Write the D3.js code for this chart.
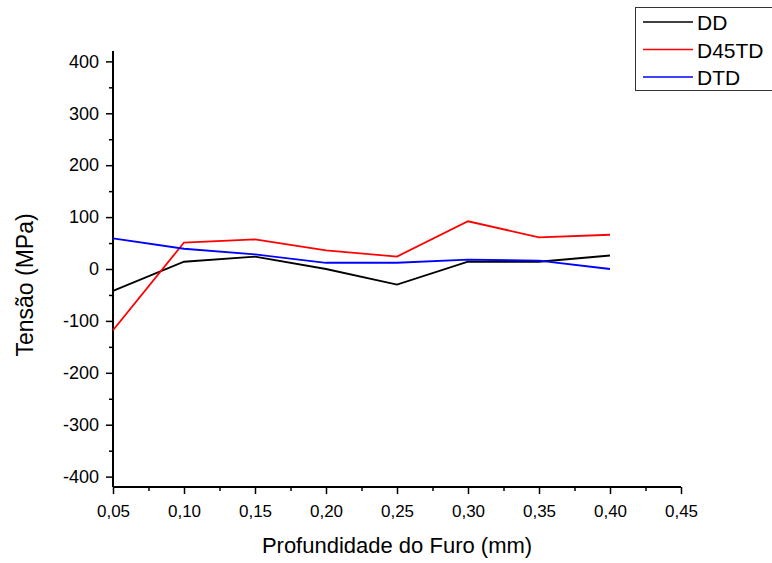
<!DOCTYPE html>
<html><head><meta charset="utf-8">
<script src="https://cdn.jsdelivr.net/npm/d3@7"></script>
<style>body{margin:0;background:#fff;font-family:"Liberation Sans",Arial,sans-serif;}</style>
</head><body>
<svg id="c" width="772" height="563"></svg>
<script>
const depths = [0.05,0.10,0.15,0.20,0.25,0.30,0.35,0.40];
const DD = [-42,14,24,0,-30,14,14,26];
const D45TD = [-118,51,57,36,24,92,61,66];
const DTD = [59,39,28,12,12,18,16,0];
const seriesNames = ["DD","D45TD","DTD"];
const seriesColors = ["#000000","#ff0000","#0000ff"];
const xTicks = [0.05,0.10,0.15,0.20,0.25,0.30,0.35,0.40,0.45];
const yTicks = [-400,-300,-200,-100,0,100,200,300,400];

const svg = d3.select("#c");
const FF = "Liberation Sans, Arial, sans-serif";
const x = d3.scaleLinear().domain([0.05,0.45]).range([113,681]);
const y = d3.scaleLinear().domain([-420,420]).range([487,51]);
const fmt = d => d.toFixed(2).replace(".",",");

const gx = svg.append("g").attr("transform","translate(0,487)");
gx.call(d3.axisBottom(x).tickValues(xTicks).tickFormat(fmt).tickSize(7).tickPadding(11));
gx.append("g").call(d3.axisBottom(x).tickValues(d3.range(0.075,0.45,0.05)).tickFormat("").tickSize(4));
const gy = svg.append("g").attr("transform","translate(113,0)");
gy.call(d3.axisLeft(y).tickValues(yTicks).tickFormat(d => String(d)).tickSize(7).tickPadding(7));
gy.append("g").call(d3.axisLeft(y).tickValues(d3.range(-350,400,100)).tickFormat("").tickSize(4));
svg.selectAll(".domain").attr("stroke","#000").attr("stroke-width",2);
svg.selectAll(".tick line").attr("stroke","#000").attr("stroke-width",1.5);
gx.selectAll(".tick text").attr("font-size",17).attr("fill","#000").attr("font-family",FF);
gy.selectAll(".tick text").attr("font-size",18).attr("fill","#000").attr("font-family",FF);
gx.selectAll(".domain").attr("d","M113,0H681");
gy.selectAll(".domain").attr("d","M0,51V487");

const all = [DD,D45TD,DTD];
const line = d3.line().x((d,i)=>x(depths[i])).y(d=>y(d));
all.forEach((s,k)=>{
  svg.append("path").datum(s).attr("d",line).attr("fill","none")
    .attr("stroke",seriesColors[k]).attr("stroke-width",1.8);
});

svg.append("text").attr("transform","translate(33,285) rotate(-90)")
  .attr("text-anchor","middle").attr("font-size",23).attr("font-family",FF).text("Tensão (MPa)");
svg.append("text").attr("x",397).attr("y",553)
  .attr("text-anchor","middle").attr("font-size",22).attr("font-family",FF).text("Profundidade do Furo (mm)");

const lg = svg.append("g");
lg.append("rect").attr("x",635.5).attr("y",7.5).attr("width",140).attr("height",83)
  .attr("fill","#fff").attr("stroke","#333").attr("stroke-width",1);
seriesNames.forEach((n,i)=>{
  const yy = 22 + i*27.5;
  lg.append("line").attr("x1",643).attr("x2",693).attr("y1",yy).attr("y2",yy)
    .attr("stroke",seriesColors[i]).attr("stroke-width",1.6);
  lg.append("text").attr("x",697).attr("y",yy+8).attr("font-size",21).attr("font-family",FF).text(n);
});
</script>
</body></html>
